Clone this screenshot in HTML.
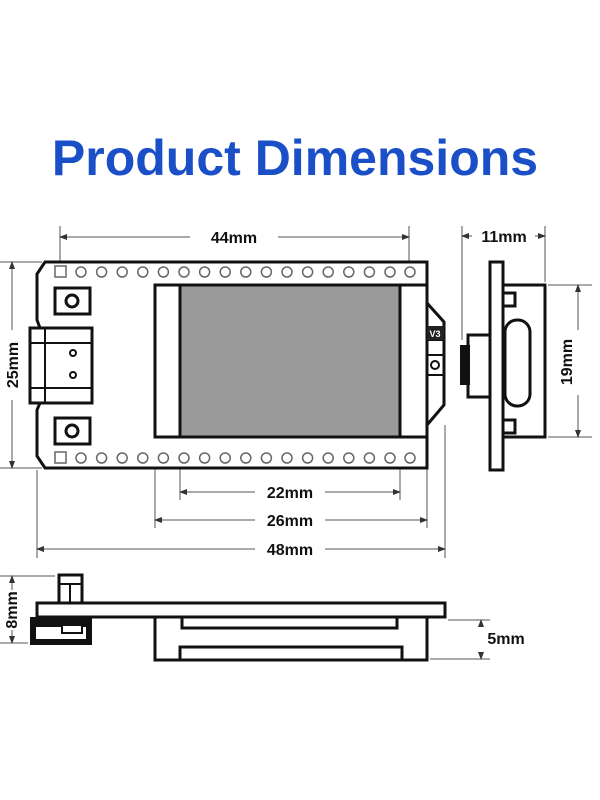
<!DOCTYPE html>
<html><head><style>body{margin:0;background:#fff}svg{display:block}</style></head><body>
<svg width="600" height="800" viewBox="0 0 600 800" xmlns="http://www.w3.org/2000/svg" font-family="Liberation Sans, sans-serif">
<defs><marker id="a" markerWidth="8" markerHeight="6" refX="7" refY="3" orient="auto-start-reverse"><path d="M0,0 L8,3 L0,6 z" fill="#333"/></marker></defs>
<text x="295" y="175" text-anchor="middle" font-size="50" font-weight="bold" fill="#1a4fc8">Product Dimensions</text>
<g stroke="#555" stroke-width="1" fill="none">
<line x1="60" y1="226" x2="60" y2="270"/><line x1="409" y1="226" x2="409" y2="270"/>
<line x1="60" y1="237" x2="190" y2="237" marker-start="url(#a)"/><line x1="278" y1="237" x2="409" y2="237" marker-end="url(#a)"/>
<line x1="0" y1="262" x2="42" y2="262"/><line x1="0" y1="468" x2="42" y2="468"/>
<line x1="12" y1="262" x2="12" y2="330" marker-start="url(#a)"/><line x1="12" y1="400" x2="12" y2="468" marker-end="url(#a)"/>
<line x1="180" y1="440" x2="180" y2="500"/><line x1="400" y1="440" x2="400" y2="500"/>
<line x1="155" y1="440" x2="155" y2="528"/><line x1="427" y1="440" x2="427" y2="528"/>
<line x1="37" y1="470" x2="37" y2="558"/><line x1="445" y1="425" x2="445" y2="558"/>
<line x1="180" y1="492" x2="255" y2="492" marker-start="url(#a)"/><line x1="325" y1="492" x2="400" y2="492" marker-end="url(#a)"/>
<line x1="155" y1="520" x2="255" y2="520" marker-start="url(#a)"/><line x1="325" y1="520" x2="427" y2="520" marker-end="url(#a)"/>
<line x1="37" y1="549" x2="255" y2="549" marker-start="url(#a)"/><line x1="325" y1="549" x2="445" y2="549" marker-end="url(#a)"/>
<line x1="462" y1="226" x2="462" y2="340"/><line x1="545" y1="226" x2="545" y2="282"/>
<line x1="462" y1="236" x2="472" y2="236" marker-start="url(#a)"/><line x1="535" y1="236" x2="545" y2="236" marker-end="url(#a)"/>
<line x1="548" y1="285" x2="592" y2="285"/><line x1="548" y1="437" x2="592" y2="437"/>
<line x1="578" y1="285" x2="578" y2="330" marker-start="url(#a)"/><line x1="578" y1="395" x2="578" y2="437" marker-end="url(#a)"/>
<line x1="0" y1="576" x2="55" y2="576"/><line x1="0" y1="643" x2="28" y2="643"/>
<line x1="12" y1="576" x2="12" y2="590" marker-start="url(#a)"/><line x1="12" y1="630" x2="12" y2="643" marker-end="url(#a)"/>
<line x1="448" y1="620" x2="490" y2="620"/><line x1="430" y1="659" x2="490" y2="659"/>
<line x1="481" y1="620" x2="481" y2="627" marker-start="url(#a)"/><line x1="481" y1="652" x2="481" y2="659" marker-end="url(#a)"/>
</g>
<g font-weight="bold" font-size="16" fill="#111" text-anchor="middle">
<text x="234" y="243">44mm</text><text x="504" y="242">11mm</text>
<text x="290" y="498">22mm</text><text x="290" y="526">26mm</text><text x="290" y="555">48mm</text>
<text x="506" y="644">5mm</text>
<text transform="translate(18,365) rotate(-90)">25mm</text>
<text transform="translate(572,362) rotate(-90)">19mm</text>
<text transform="translate(17,610) rotate(-90)">8mm</text>
</g>
<g stroke="#111" stroke-width="3" fill="#fff">
<path d="M45,262 L427,262 L427,468 L45,468 L37,456 L37,410 L40,403 L40,328 L37,320 L37,274 Z"/>
<path d="M427,303 L444,322 L444,405 L427,425 Z"/>
<rect x="30" y="328" width="62" height="75"/>
<rect x="155" y="285" width="272" height="152"/>
<rect x="180" y="285" width="220" height="152" fill="#9a9a9a"/>
<rect x="55" y="288" width="35" height="26"/><rect x="55" y="418" width="35" height="26"/>
<circle cx="72" cy="301" r="6"/><circle cx="72" cy="431" r="6"/>
</g>
<g stroke="#111" stroke-width="2" fill="none">
<line x1="30" y1="343" x2="92" y2="343"/><line x1="30" y1="388" x2="92" y2="388"/><line x1="45" y1="328" x2="45" y2="403"/>
<circle cx="73" cy="353" r="3"/><circle cx="73" cy="375" r="3"/>
<line x1="427" y1="340" x2="444" y2="340"/><line x1="427" y1="355" x2="444" y2="355"/><line x1="427" y1="375" x2="444" y2="375"/>
<circle cx="435" cy="365" r="4"/>
</g>
<rect x="427" y="326" width="17" height="14" fill="#222"/><text x="435" y="337" font-size="9" fill="#fff" text-anchor="middle" font-weight="bold">V3</text>
<g stroke="#666" stroke-width="1.5" fill="#fff">
<rect x="55" y="266" width="11" height="11"/><rect x="55" y="452" width="11" height="11"/>
<g id="p"><circle cx="81" cy="272" r="5"/><circle cx="101.6" cy="272" r="5"/><circle cx="122.2" cy="272" r="5"/><circle cx="142.8" cy="272" r="5"/><circle cx="163.4" cy="272" r="5"/><circle cx="184" cy="272" r="5"/><circle cx="204.6" cy="272" r="5"/><circle cx="225.2" cy="272" r="5"/><circle cx="245.8" cy="272" r="5"/><circle cx="266.4" cy="272" r="5"/><circle cx="287" cy="272" r="5"/><circle cx="307.6" cy="272" r="5"/><circle cx="328.2" cy="272" r="5"/><circle cx="348.8" cy="272" r="5"/><circle cx="369.4" cy="272" r="5"/><circle cx="390" cy="272" r="5"/><circle cx="410" cy="272" r="5"/></g>
<use href="#p" y="186"/>
</g>
<g stroke="#111" stroke-width="3" fill="#fff">
<rect x="490" y="262" width="13" height="208"/>
<rect x="503" y="285" width="42" height="152"/>
<rect x="505" y="320" width="25" height="86" rx="12"/>
<rect x="503" y="293" width="12" height="13"/><rect x="503" y="420" width="12" height="13"/>
<rect x="468" y="335" width="22" height="62"/>
<rect x="37" y="603" width="408" height="14"/>
<rect x="59" y="575" width="23" height="28"/>
<rect x="155" y="617" width="272" height="43"/>
<rect x="182" y="617" width="215" height="11"/><rect x="180" y="647" width="222" height="13"/>
</g>
<rect x="460" y="345" width="10" height="40" fill="#111"/>
<rect x="30" y="617" width="62" height="28" fill="#111"/>
<rect x="36" y="627" width="50" height="12" fill="#fff"/>
<rect x="62" y="625" width="20" height="8" fill="#fff" stroke="#111" stroke-width="2"/>
<line x1="59" y1="584" x2="82" y2="584" stroke="#111" stroke-width="2"/><line x1="70" y1="584" x2="70" y2="603" stroke="#111" stroke-width="2"/>
</svg>
</body></html>
